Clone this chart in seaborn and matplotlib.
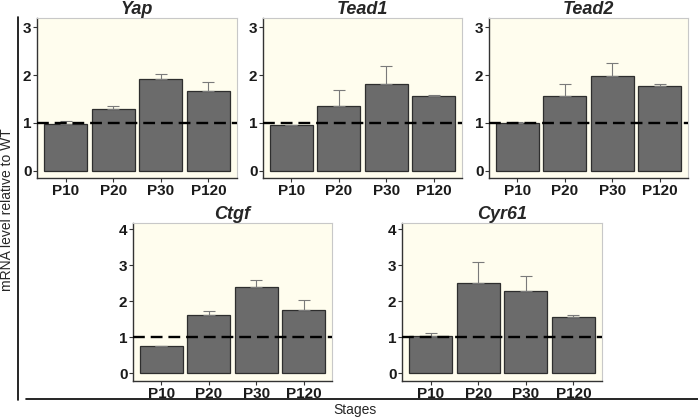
import matplotlib
matplotlib.use('Agg')
import matplotlib.pyplot as plt
import seaborn as sns
import pandas as pd
from matplotlib.lines import Line2D

# Stages and relative mRNA levels (mean, upper error)
stages = ['P10', 'P20', 'P30', 'P120']
genes = ['Yap', 'Tead1', 'Tead2', 'Ctgf', 'Cyr61']

yap_mean = [0.98, 1.29, 1.91, 1.67]
yap_err = [0.05, 0.07, 0.12, 0.18]
tead1_mean = [0.95, 1.35, 1.81, 1.56]
tead1_err = [0.0, 0.33, 0.37, 0.02]
tead2_mean = [1.00, 1.57, 1.98, 1.78]
tead2_err = [0.02, 0.25, 0.27, 0.03]
ctgf_mean = [0.75, 1.61, 2.39, 1.76]
ctgf_err = [0.01, 0.12, 0.20, 0.27]
cyr61_mean = [1.02, 2.49, 2.29, 1.57]
cyr61_err = [0.09, 0.60, 0.41, 0.05]

means = [yap_mean, tead1_mean, tead2_mean, ctgf_mean, cyr61_mean]
errs = [yap_err, tead1_err, tead2_err, ctgf_err, cyr61_err]

W, H = 698, 418
fig = plt.figure(figsize=(W / 100, H / 100), dpi=100)
sns.set_style('white')
plt.rcParams['font.family'] = ['Liberation Sans', 'DejaVu Sans']

# panel boxes in pixels: left, top, right, bottom
boxes = [(37, 18, 237, 178), (263, 18, 462, 178), (489, 18, 688, 178),
         (133, 223, 332, 381), (402, 223, 602, 381)]
ylims = [(-0.15, 3.19), (-0.15, 3.19), (-0.15, 3.19), (-0.22, 4.17), (-0.22, 4.17)]
yticks = [[0, 1, 2, 3]] * 3 + [[0, 1, 2, 3, 4]] * 2

for gene, m, e, box, yl, yt in zip(genes, means, errs, boxes, ylims, yticks):
    l, t, r, b = box
    ax = fig.add_axes([l / W, 1 - b / H, (r - l) / W, (b - t) / H])
    ax.set_facecolor('#fffdee')
    df = pd.DataFrame({'stage': stages, 'level': m})
    sns.barplot(data=df, x='stage', y='level', ax=ax, color='#6b6b6b',
                saturation=1, width=0.9, edgecolor='#2e2e2e', linewidth=0.9,
                errorbar=None)
    ax.errorbar(range(len(stages)), m, yerr=[[0] * len(e), e], fmt='none',
                ecolor='#7a7a7a', elinewidth=0.8, capsize=4, capthick=0.8, zorder=1)
    ax.axhline(1, color='black', linestyle=(0, (5, 2.5)), linewidth=1.7, zorder=5)
    ax.set_xlim(-0.6, 3.6)
    ax.set_ylim(*yl)
    ax.set_yticks(yt)
    ax.set_xlabel('')
    ax.set_ylabel('')
    ax.set_title(gene, fontsize=13, fontweight='bold', fontstyle='italic', pad=2)
    ax.tick_params(axis='both', which='both', length=3, width=0.8, color='#333333',
                   labelsize=11, pad=1, left=True, bottom=True)
    for lab in ax.get_xticklabels() + ax.get_yticklabels():
        lab.set_fontweight('bold')
        lab.set_color('#1a1a1a')
    for side in ['top', 'right']:
        ax.spines[side].set_color('#c8c8c8')
        ax.spines[side].set_linewidth(0.8)
    for side in ['left', 'bottom']:
        ax.spines[side].set_color('#333333')
        ax.spines[side].set_linewidth(1.0)

# outer axis lines and shared labels
fig.add_artist(Line2D([18 / W, 18 / W], [1 - 17 / H, 1 - 400 / H], color='black', lw=1.2))
fig.add_artist(Line2D([26 / W, 1.0], [1 - 399 / H, 1 - 399 / H], color='black', lw=1.2))
fig.text(7 / W, 1 - 210 / H, 'mRNA level relative to WT', rotation=90,
         ha='center', va='center', fontsize=10)
fig.text(355 / W, 1 - 410 / H, 'Stages', ha='center', va='center', fontsize=10)

fig.savefig('out.png', dpi=100)
